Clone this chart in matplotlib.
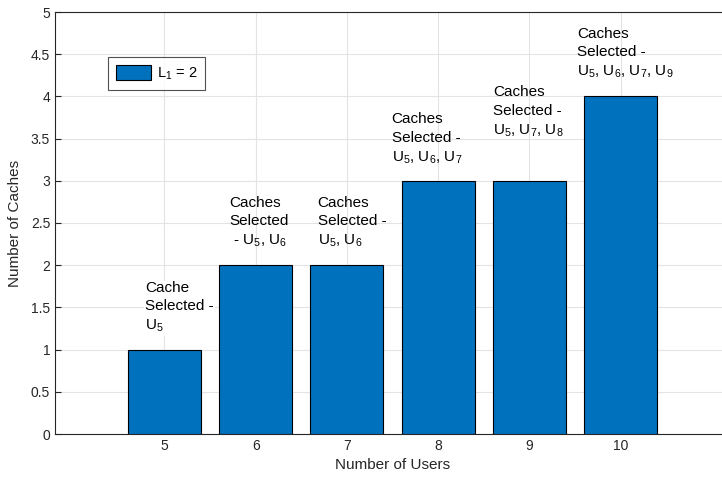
import numpy as np
import matplotlib
matplotlib.use("Agg")
import matplotlib.pyplot as plt
from matplotlib.patches import Rectangle
from matplotlib.legend_handler import HandlerPatch

plt.rcParams['font.family'] = ['Liberation Sans', 'DejaVu Sans']
plt.rcParams['mathtext.fontset'] = 'custom'
plt.rcParams['mathtext.rm'] = 'Liberation Sans'
plt.rcParams['mathtext.it'] = 'Liberation Sans:italic'

# datos
users = [5, 6, 7, 8, 9, 10]
caches = [1, 2, 2, 3, 3, 4]
labels = [
    'Cache\nSelected -\nU$\\mathregular{_5}$',
    'Caches\nSelected\n - U$\\mathregular{_5}$, U$\\mathregular{_6}$',
    'Caches\nSelected -\nU$\\mathregular{_5}$, U$\\mathregular{_6}$',
    'Caches\nSelected -\nU$\\mathregular{_5}$, U$\\mathregular{_6}$, U$\\mathregular{_7}$',
    'Caches\nSelected -\nU$\\mathregular{_5}$, U$\\mathregular{_7}$, U$\\mathregular{_8}$',
    'Caches\nSelected -\nU$\\mathregular{_5}$, U$\\mathregular{_6}$, U$\\mathregular{_7}$, U$\\mathregular{_9}$',
]
label_x = [4.79, 5.71, 6.68, 7.49, 8.60, 9.52]
label_y = [1.81, 2.82, 2.82, 3.81, 4.13, 4.82]


def legend_patch(legend, orig_handle, xdescent, ydescent, width, height, fontsize):
    # cuadrito corrido a la derecha como en matlab
    return Rectangle((xdescent + 8, ydescent - 3), width - 8, height + 4)


fig = plt.figure(figsize=(7.22, 4.83), dpi=100)
ax = fig.add_axes([55/722, 49/483, 675/722, 422/483])

ax.bar(users, caches, width=0.8, color='#0072BD', edgecolor='black', linewidth=0.8,
       label='L$\\mathregular{_1}$ = 2', zorder=3)

for i in range(len(labels)):
    kw = {}
    if i == 0:
        kw['bbox'] = dict(facecolor='white', edgecolor='none', pad=1)
    ax.text(label_x[i], label_y[i], labels[i], fontsize=11, va='top', ha='left',
            linespacing=1.38, color='black', zorder=4, **kw)

ax.set_xlim(3.8, 11.2)
ax.set_ylim(0, 5)
ax.set_xticks(users)
ax.set_yticks(np.arange(0, 5.01, 0.5))
ax.set_yticklabels(['0', '0.5', '1', '1.5', '2', '2.5', '3', '3.5', '4', '4.5', '5'])
ax.grid(True, color='#e3e3e3', linewidth=0.8, zorder=0)
ax.set_axisbelow(True)
ax.tick_params(direction='in', length=4, colors='#262626', labelsize=10)
for s in ax.spines.values():
    s.set_color('#262626')
    s.set_linewidth(0.8)

ax.set_xlabel('Number of Users', fontsize=11, color='#262626', labelpad=4)
ax.set_ylabel('Number of Caches', fontsize=11, color='#262626', labelpad=6)

leg = ax.legend(loc='upper left', bbox_to_anchor=(0.0785, 0.893), borderaxespad=0,
                fancybox=False, edgecolor='#262626', fontsize=10.5,
                handlelength=2.4, handleheight=1.2, borderpad=0.55, handletextpad=0.4,
                handler_map={Rectangle: HandlerPatch(patch_func=legend_patch)})
leg.get_frame().set_linewidth(0.8)
leg.legend_handles[0].set_edgecolor('black')

fig.savefig('out.png', dpi=100)
